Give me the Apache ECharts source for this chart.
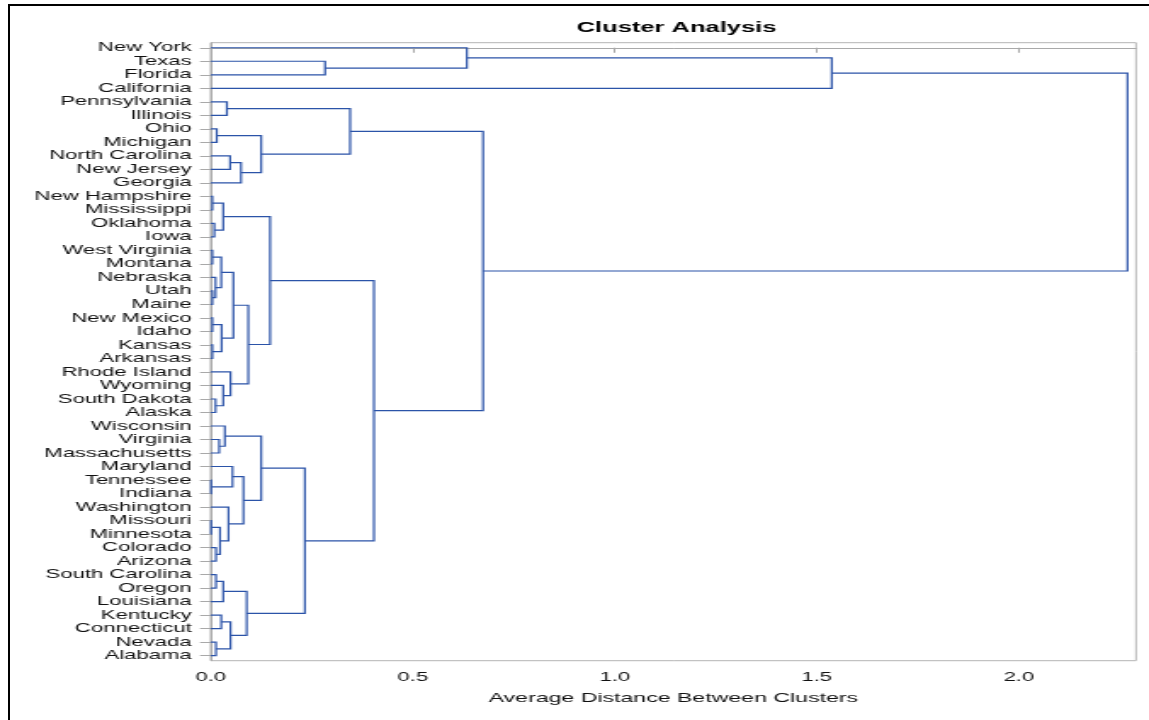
<!DOCTYPE html>
<html>
<head>
<meta charset="utf-8">
<title>Cluster Analysis</title>
<script src="https://cdn.jsdelivr.net/npm/echarts@6/dist/echarts.min.js"></script>
<style>
  html, body { margin: 0; padding: 0; background: #fff; overflow: hidden; }
  #frame {
    position: absolute; left: 8px; top: 4px; width: 1200px; height: 760px;
    border-top: 2px solid #000; border-left: 2px solid #000;
  }
  #chart { position: absolute; left: 0; top: 0; height: 720px; transform-origin: 0 0; }
</style>
</head>
<body>
<div id="frame"></div>
<div id="chart"></div>
<script>
// Leaf order, top to bottom
const states = [
  'New York', 'Texas', 'Florida', 'California', 'Pennsylvania', 'Illinois',
  'Ohio', 'Michigan', 'North Carolina', 'New Jersey', 'Georgia',
  'New Hampshire', 'Mississippi', 'Oklahoma', 'Iowa', 'West Virginia',
  'Montana', 'Nebraska', 'Utah', 'Maine', 'New Mexico', 'Idaho', 'Kansas',
  'Arkansas', 'Rhode Island', 'Wyoming', 'South Dakota', 'Alaska',
  'Wisconsin', 'Virginia', 'Massachusetts', 'Maryland', 'Tennessee',
  'Indiana', 'Washington', 'Missouri', 'Minnesota', 'Colorado', 'Arizona',
  'South Carolina', 'Oregon', 'Louisiana', 'Kentucky', 'Connecticut',
  'Nevada', 'Alabama'
];

// Merge steps: [left, right, average distance].
// A string is a state; a number refers to an earlier step (1-based).
const merges = [
  ['Texas', 'Florida', 0.283],            // 1
  ['New York', 1, 0.634],                 // 2
  [2, 'California', 1.537],               // 3
  ['Pennsylvania', 'Illinois', 0.040],    // 4
  ['Ohio', 'Michigan', 0.015],            // 5
  ['North Carolina', 'New Jersey', 0.048],// 6
  [6, 'Georgia', 0.075],                  // 7
  [5, 7, 0.125],                          // 8
  [4, 8, 0.345],                          // 9
  ['New Hampshire', 'Mississippi', 0.004],// 10
  ['Oklahoma', 'Iowa', 0.009],            // 11
  [10, 11, 0.031],                        // 12
  ['West Virginia', 'Montana', 0.004],    // 13
  ['Utah', 'Maine', 0.004],               // 14
  ['Nebraska', 14, 0.012],                // 15
  [13, 15, 0.026],                        // 16
  ['New Mexico', 'Idaho', 0.004],         // 17
  ['Kansas', 'Arkansas', 0.004],          // 18
  [17, 18, 0.027],                        // 19
  [16, 19, 0.056],                        // 20
  ['South Dakota', 'Alaska', 0.012],      // 21
  ['Wyoming', 21, 0.031],                 // 22
  ['Rhode Island', 22, 0.049],            // 23
  [20, 23, 0.093],                        // 24
  [12, 24, 0.147],                        // 25
  ['Virginia', 'Massachusetts', 0.021],   // 26
  ['Wisconsin', 26, 0.035],               // 27
  ['Tennessee', 'Indiana', 0.001],        // 28
  ['Maryland', 28, 0.054],                // 29
  ['Missouri', 'Minnesota', 0.001],       // 30
  ['Colorado', 'Arizona', 0.013],         // 31
  [30, 31, 0.023],                        // 32
  ['Washington', 32, 0.044],              // 33
  [29, 33, 0.081],                        // 34
  [27, 34, 0.125],                        // 35
  ['South Carolina', 'Oregon', 0.013],    // 36
  [36, 'Louisiana', 0.031],               // 37
  ['Kentucky', 'Connecticut', 0.026],     // 38
  ['Nevada', 'Alabama', 0.013],           // 39
  [38, 39, 0.049],                        // 40
  [37, 40, 0.089],                        // 41
  [35, 41, 0.233],                        // 42
  [25, 42, 0.404],                        // 43
  [9, 43, 0.674],                         // 44
  [3, 44, 2.269]                          // 45
];

const xTicks = [0, 0.5, 1.0, 1.5, 2.0];
const xMax = 2.29;
const titleText = 'Cluster Analysis';
const xAxisTitle = 'Average Distance Between Clusters';

// The drawing is rendered narrow and stretched horizontally, giving the wide lettering.
const STRETCH = 1.7;
const W0 = Math.round(1149 / STRETCH);
const sx = 1149 / W0;
const el = document.getElementById('chart');
el.style.width = W0 + 'px';
el.style.transform = 'scaleX(' + sx + ')';

// Node positions: leaves sit on their row, clusters midway between children.
const nodes = merges.map(() => null);
function place(ref) {
  if (typeof ref === 'string') return { y: states.indexOf(ref), h: 0 };
  return nodes[ref - 1];
}
const links = [];
merges.forEach((m, i) => {
  const a = place(m[0]);
  const b = place(m[1]);
  nodes[i] = { y: (a.y + b.y) / 2, h: m[2] };
  links.push([a.h, a.y, m[2], b.y, b.h]);
});

const FONT = '"Liberation Sans", Arial, sans-serif';
const LINE = '#2b53a8';
const AXIS = '#a9a9a9';
const TEXT = '#111';

const gridLeft = 210.7 / sx;
const gridRightEdge = 1136 / sx;
const rowValues = states.map((_, i) => i);

const chart = echarts.init(el, null, { renderer: 'canvas' });
chart.setOption({
  animation: false,
  backgroundColor: 'transparent',
  title: {
    text: titleText,
    left: 668 / sx,
    textAlign: 'center',
    top: 15,
    textStyle: { fontFamily: FONT, fontSize: 15, fontWeight: 'bold', color: '#000' }
  },
  grid: {
    left: gridLeft,
    right: W0 - gridRightEdge,
    top: 42.7,
    bottom: 720 - 660.7,
    show: true,
    borderColor: '#b4b4b4',
    borderWidth: 1,
    backgroundColor: 'transparent'
  },
  xAxis: {
    type: 'value',
    min: 0,
    max: xMax,
    name: xAxisTitle,
    nameLocation: 'middle',
    nameGap: 31,
    nameTextStyle: { fontFamily: FONT, fontSize: 13.6, color: TEXT },
    axisLine: { show: true, lineStyle: { color: AXIS, width: 1 } },
    axisTick: { show: true, length: 5, customValues: xTicks, lineStyle: { color: AXIS } },
    axisLabel: {
      customValues: xTicks,
      margin: 10,
      fontFamily: FONT, fontSize: 13, color: TEXT,
      formatter: v => Number(v).toFixed(1)
    },
    splitLine: { show: false }
  },
  yAxis: {
    type: 'value',
    inverse: true,
    min: -0.375,
    max: states.length - 1 + 0.375,
    axisLine: { show: true, lineStyle: { color: AXIS, width: 1 } },
    axisTick: {
      show: true, length: 6.3,
      customValues: rowValues,
      lineStyle: { color: AXIS }
    },
    axisLabel: {
      customValues: rowValues,
      showMinLabel: true,
      showMaxLabel: true,
      hideOverlap: false,
      margin: 11.2,
      fontFamily: FONT, fontSize: 13, color: TEXT,
      formatter: v => states[Math.round(v)]
    },
    splitLine: { show: false }
  },
  series: [{
    type: 'custom',
    name: 'Dendrogram',
    silent: true,
    clip: false,
    encode: { x: [0, 2, 4], y: [1, 3] },
    data: links,
    renderItem: function (params, api) {
      const pts = [
        api.coord([api.value(0), api.value(1)]),
        api.coord([api.value(2), api.value(1)]),
        api.coord([api.value(2), api.value(3)]),
        api.coord([api.value(4), api.value(3)])
      ];
      return {
        type: 'polyline',
        shape: { points: pts },
        style: { fill: null, stroke: LINE, lineWidth: 1.2 }
      };
    }
  }]
});
</script>
</body>
</html>
